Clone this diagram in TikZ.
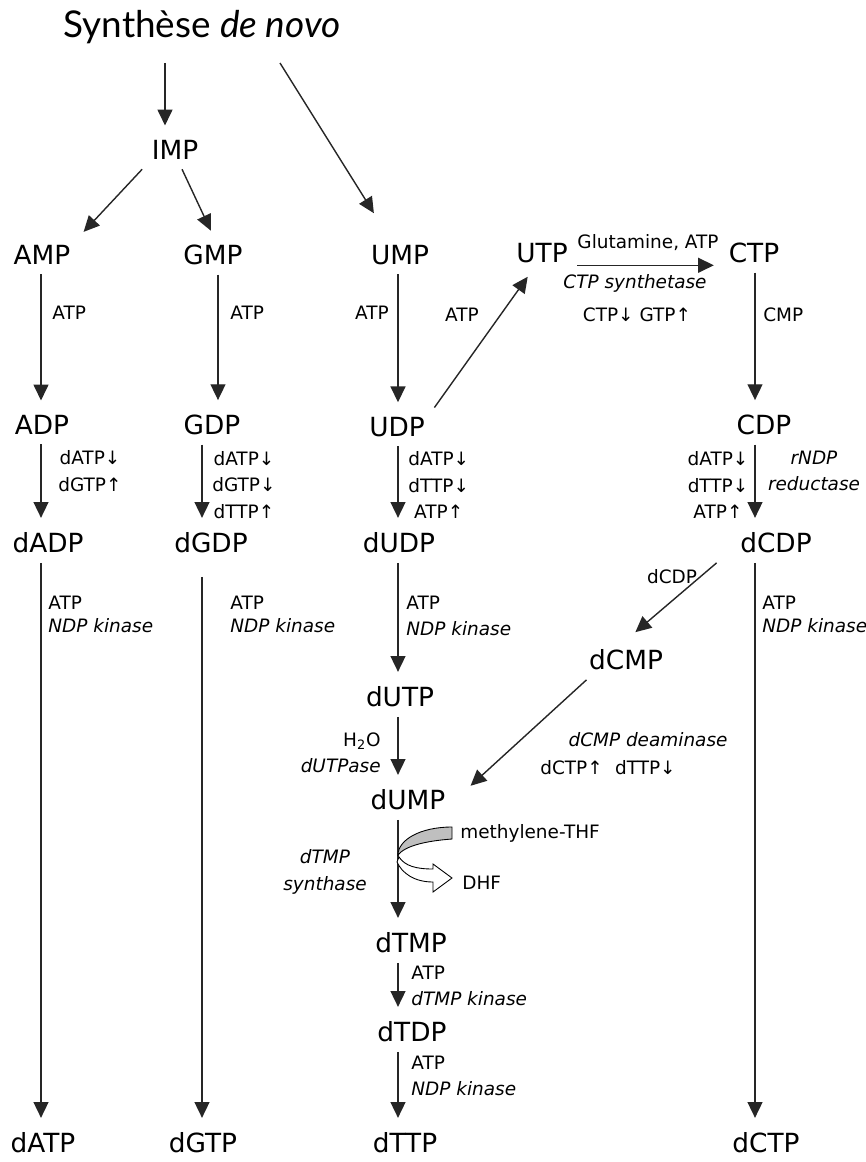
\documentclass[tikz,border=0pt]{standalone}
\usepackage{fontspec}
\setmainfont{DejaVu Sans}
\newfontfamily\titlefont{Lato}
\usetikzlibrary{arrows.meta,positioning,calc}

\tikzset{
  cpd/.style={inner sep=2pt, outer sep=3.5pt, font=\fontsize{15}{18}\selectfont},
  lbl/.style={inner sep=0pt, font=\fontsize{10.5}{15}\selectfont, align=center},
  rxn/.style={draw=black!85, line width=0.8pt, -{Triangle[length=9pt,width=8.5pt]}, shorten >=3pt},
}

\begin{document}
\begin{tikzpicture}[x=0.02cm, y=-0.02cm]
  \useasboundingbox (0,0) rectangle (865,1162);
  %title
  \node[inner sep=0pt] (title) at (202,27) {\titlefont\fontsize{21}{24}\selectfont Synthèse \itshape de novo};
  \coordinate (src1) at (165,63);
  \coordinate (src2) at (280,63);
  %columns
  \coordinate (xA) at (41,0);
  \coordinate (xG1) at (218,0);
  \coordinate (xG2) at (202,0);
  \coordinate (xU) at (398,0);
  \coordinate (xC) at (755,0);
  %nodes
  \node[cpd] (imp) at (175,150) {IMP};
  \node[cpd] (amp) at (42,255) {AMP};
  \node[cpd] (gmp) at (213,255) {GMP};
  \node[cpd] (ump) at (400,255) {UMP};
  \node[cpd] (utp) at (542,253) {UTP};
  \node[cpd] (ctp) at (754,253) {CTP};
  \node[cpd] (adp) at (42,425) {ADP};
  \node[cpd] (gdp) at (212,425) {GDP};
  \node[cpd] (udp) at (397,427) {UDP};
  \node[cpd] (cdp) at (764,425) {CDP};
  \node[cpd] (dadp) at (48,543) {dADP};
  \node[cpd] (dgdp) at (211,543) {dGDP};
  \node[cpd] (dudp) at (399,543) {dUDP};
  \node[cpd] (dcdp) at (776,543) {dCDP};
  \node[cpd] (dcmp) at (626,660) {dCMP};
  \node[cpd] (dutp) at (400,697) {dUTP};
  \node[cpd] (dump) at (408,800) {dUMP};
  \node[cpd] (dtmp) at (411,943) {dTMP};
  \node[cpd] (dtdp) at (412,1032) {dTDP};
  \node[cpd] (dttp) at (405,1143) {dTTP};
  \node[cpd] (datp) at (43,1143) {dATP};
  \node[cpd] (dgtp) at (203,1143) {dGTP};
  \node[cpd] (dctp) at (766,1143) {dCTP};
  %edges
  \draw[rxn] (src1) -- (src1 |- imp.north);
  \draw[rxn, shorten >=15pt] (src2) -- (ump);
  \draw[rxn] (imp.south west) -- (amp.north east);
  \draw[rxn] ([xshift=4pt]imp.south) -- (gmp.north);
  \draw[rxn] (amp.south -| xA) -- (adp.north -| xA);
  \draw[rxn] (gmp.south -| xG1) -- (gdp.north -| xG1);
  \draw[rxn] (ump.south -| xU) -- (udp.north -| xU);
  \draw[rxn] (udp.north east) -- (utp.240);
  \draw[rxn] ([yshift=-7pt]utp.east) -- ([yshift=-7pt]ctp.west);
  \draw[rxn] (ctp.south -| xC) -- (cdp.north -| xC);
  \draw[rxn] (adp.south -| xA) -- (dadp.north -| xA);
  \draw[rxn] (gdp.south -| xG2) -- (dgdp.north -| xG2);
  \draw[rxn] (udp.south -| xU) -- (dudp.north -| xU);
  \draw[rxn] (cdp.south -| xC) -- (dcdp.north -| xC);
  \draw[rxn] (dadp.south -| xA) -- (datp.north -| xA);
  \draw[rxn, shorten <=8pt] (dgdp.south -| xG2) -- (dgtp.north -| xG2);
  \draw[rxn] (dudp.south -| xU) -- (dutp.north -| xU);
  \draw[rxn] (dcdp.south -| xC) -- (dctp.north -| xC);
  \draw[rxn, shorten >=7pt] ([xshift=-8pt]dcdp.south west) -- (dcmp.north);
  \draw[rxn, shorten >=12pt] ([xshift=4pt]dcmp.south west) -- (dump.east);
  \draw[rxn] (dutp.south -| xU) -- (dump.north -| xU);
  \draw[rxn] (dump.south -| xU) -- (dtmp.north -| xU);
  \draw[rxn] (dtmp.south -| xU) -- (dtdp.north -| xU);
  \draw[rxn] (dtdp.south -| xU) -- (dttp.north -| xU);
  %methylene-THF in, DHF out
  \draw[fill=black!25, line width=0.5pt] (452,827) -- (452,839)
    .. controls (425,841) and (405,846) .. (398,855)
    .. controls (398,840) and (420,827) .. (452,827) -- cycle;
  \draw[fill=white, line width=0.5pt] (399,857) .. controls (405,866) and (416,869) .. (433,869)
    -- (433,864) -- (452,878) -- (433,892) -- (433,882)
    .. controls (414,882) and (402,873) .. (397,862) -- cycle;
  %labels
  \node[lbl, anchor=west] (atpA) at (52,313) {ATP};
  \node[lbl, anchor=west] (atpG) at (230,313) {ATP};
  \node[lbl, anchor=east] (atpU) at (389,313) {ATP};
  \node[lbl] (atpUT) at (462,315) {ATP};
  \node[lbl] (glut) at (648,243) {Glutamine, ATP};
  \node[lbl] (ctps) at (635,283) {\itshape CTP synthetase};
  \node[lbl] (ctpreg) at (637,315) {CTP↓ GTP↑};
  \node[lbl, anchor=west] (cmp) at (763,315) {CMP};
  \node[lbl, anchor=west] (regA) at (58,471) {dATP↓\\dGTP↑};
  \node[lbl, anchor=west] (regG) at (212,485) {dATP↓\\dGTP↓\\dTTP↑};
  \node[lbl, anchor=west] (regU) at (408,485) {dATP↓\\dTTP↓\\ATP↑};
  \node[lbl] (regC) at (718,485) {dATP↓\\dTTP↓\\ATP↑};
  \node[lbl] (rndp) at (814,471) {\itshape rNDP\\\itshape reductase};
  \node[lbl, anchor=west, align=left] (kinA) at (48,614) {ATP\\[-2pt]\itshape NDP kinase};
  \node[lbl, anchor=west, align=left] (kinG) at (230,614) {ATP\\[-2pt]\itshape NDP kinase};
  \node[lbl, anchor=west, align=left] (kinU) at (406,616) {ATP\\\itshape NDP kinase};
  \node[lbl, anchor=west, align=left] (kinC) at (762,614) {ATP\\[-2pt]\itshape NDP kinase};
  \node[lbl] (dcdplbl) at (672,577) {dCDP};
  \node[lbl] (dcmpd) at (648,740) {\itshape dCMP deaminase};
  \node[lbl] (dcmpreg) at (608,768) {dCTP↑\hspace{7pt}dTTP↓};
  \node[lbl, anchor=east, align=right] (h2o) at (381,753) {H\textsubscript{2}O\\\itshape dUTPase};
  \node[lbl] (dtmps) at (325,872) {\itshape dTMP\\\itshape synthase};
  \node[lbl, anchor=west] (mthf) at (460,833) {methylene-THF};
  \node[lbl, anchor=west] (dhf) at (462,883) {DHF};
  \node[lbl, anchor=west, align=left] (kinT) at (411,986) {ATP\\\itshape dTMP kinase};
  \node[lbl, anchor=west, align=left] (kinT2) at (411,1076) {ATP\\\itshape NDP kinase};
\end{tikzpicture}
\end{document}
